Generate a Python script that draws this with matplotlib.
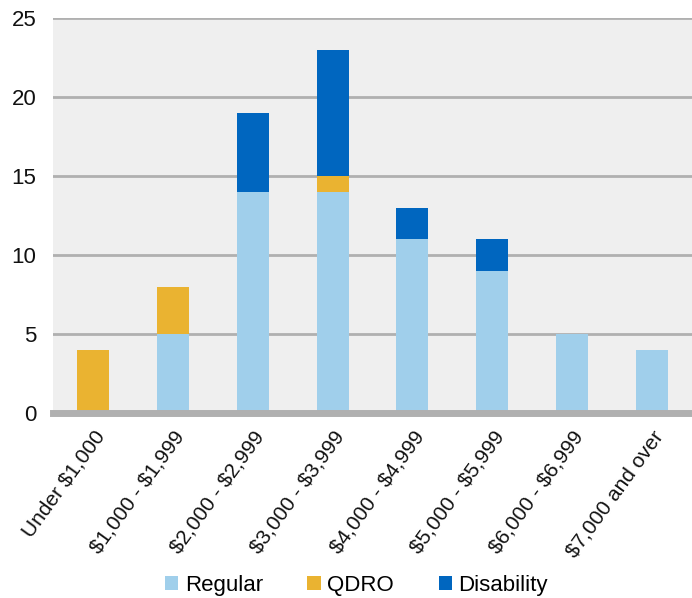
import numpy as np
import matplotlib.pyplot as plt

plt.rcParams['font.family'] = ['Liberation Sans', 'DejaVu Sans']
plt.rcParams['text.parse_math'] = False

categories = ['Under $1,000', '$1,000 - $1,999', '$2,000 - $2,999', '$3,000 - $3,999',
              '$4,000 - $4,999', '$5,000 - $5,999', '$6,000 - $6,999', '$7,000 and over']
regular = [0, 5, 14, 14, 11, 9, 5, 4]
qdro = [4, 3, 0, 1, 0, 0, 0, 0]
disability = [0, 0, 5, 8, 2, 2, 0, 0]

fig = plt.figure(figsize=(6.92, 5.98), dpi=100)
ax = fig.add_axes([0.0766, 0.309, 0.9234, 0.661])
ax.set_facecolor('#efefef')

x = np.arange(len(categories))
w = 0.4
reg = np.array(regular)
qd = np.array(qdro)
dis = np.array(disability)
ax.bar(x, reg, w, color='#a0cfeb', label='Regular', zorder=3)
ax.bar(x, qd, w, bottom=reg, color='#eab331', label='QDRO', zorder=3)
ax.bar(x, dis, w, bottom=reg + qd, color='#0066bf', label='Disability', zorder=3)

ax.set_xlim(-0.5, len(categories) - 0.5)
ax.set_ylim(0, 25)
ax.set_yticks(range(0, 26, 5))
ax.yaxis.grid(True, color='#b0b0b0', linewidth=2, zorder=0)
ax.axhline(0, color='#b0b0b0', linewidth=5, zorder=4, clip_on=False)
for s in ax.spines.values():
    s.set_visible(False)
ax.tick_params(length=0, labelsize=16, colors='#111111')
ax.tick_params(axis='y', pad=12)
ax.tick_params(axis='x', pad=10, labelsize=15)
ax.set_xticks(x)
ax.set_xticklabels(categories, rotation=54, ha='right', rotation_mode='anchor')

fig.legend(loc='lower center', bbox_to_anchor=(0.515, -0.03), ncol=3, frameon=False,
           fontsize=16, handlelength=0.6, handleheight=0.6, columnspacing=2.0,
           handletextpad=0.3)

fig.savefig('out.png', dpi=100)
